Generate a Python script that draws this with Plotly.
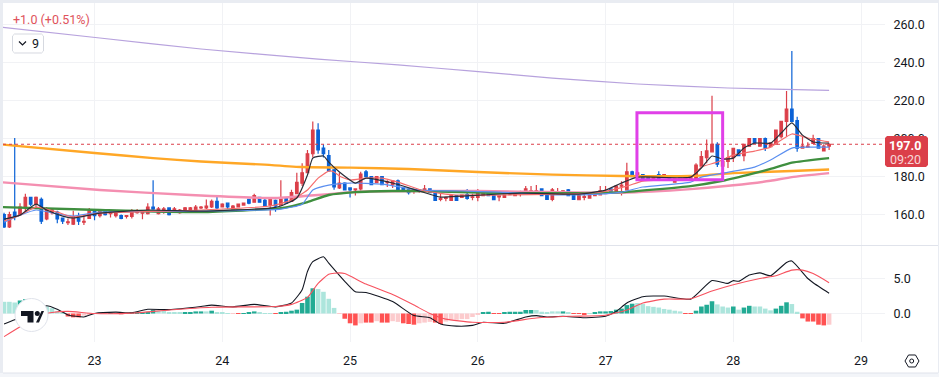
import pandas as pd
import plotly.graph_objects as go
from plotly.subplots import make_subplots

# ---------- data ----------
start_time = "2024-05-22 07:00"
opens = [160,153.5,161.3,160,163.5,169,165.5,168,157.7,161,
 161.3,158.2,155.8,155,158,156,158,162,159.5,162,
 160.5,159.5,159.5,159,159,161,160.7,160.5,164,160.5,
 161.5,163.5,162,161,161.5,162,162.5,163.5,163.5,164,
 167,164,166,163,164,165,168,166.5,169,167.5,
 165,167.5,165,168.7,167,171,176.5,182,192,204.5,
 195,191,183.5,174,176.5,174,173,173.5,182.5,180,
 176.8,180,176.8,175.8,177.7,174,173,172.5,172.5,172,
 173.5,171.5,168,168.5,167.5,170,169,170.5,169,169,
 170,172,170,169.3,169,170.5,170,171.7,171.5,172,
 172,173.5,170.5,168,171,171,173,170,167.8,169,
 168.7,170,170.3,171,173.5,171.5,175,173,182.5,180,
 181,180,178.3,181,179.5,180,177,179.5,178.5,178.5,
 179,185.5,190,193,197,185.5,188,190,194,191,
 196,200,196,200,195.7,197,201,209,215.5,209.5,
 195,195.5,197.5,200,193.5,196]
highs = [161,161.5,200.3,166,171,169.3,169.5,169,164,163,
 162,158.5,158,162,161,160,163.5,162.3,163,162.2,
 162,161.5,160,159.8,163,163,161.2,166,178,164,
 164,163.8,164,163,164,164,165,164.5,168,168,
 170,166,166.3,165,165.8,166.3,168.3,171,169.3,168.3,
 168.5,168,178,169,173,182,187,194,209,208,
 197,194,184,182,177,174.3,173.7,182.5,183.5,180.3,
 180.3,180.2,178,178,178.5,174.3,173.3,173.2,173.2,175.5,
 173.8,172,171,169.5,170.3,170.3,170.5,173.5,171,173.5,
 171.3,172.3,170.3,170,170.6,172,171.8,172.5,175,175,
 175.5,173.8,170.8,174,174,172.8,173.5,170.3,170.3,171,
 170.3,171.8,175,175,173.8,175.3,177.5,187.3,183,182.8,
 181.3,180.3,180.3,182.8,181.3,180.3,179.3,179.8,180.3,179.8,
 187,193.5,199.5,222.5,198,188.3,194,195,194.3,197.3,
 200.3,200.3,200.3,200.5,198,204.5,209.3,225,246,211.5,
 201,198,202,200.3,197,197.5]
lows = [153,153,157,160,161.5,164.5,164,155,157,160,
 155.5,155,154.5,154.5,154.5,154.5,157.7,157,158.5,159.5,
 158.5,158.5,157.5,158,158,160.5,157.5,160,162.5,160,
 160.5,159.5,161.5,160.5,161,161.5,162,163,163,163.5,
 163,163.7,163,162.7,163.8,164.8,165.5,166.2,166.2,164,
 159.5,161.5,164.7,165.7,166.7,170.7,175,181.7,190,192,
 190,182.5,173,173.5,172.7,169,170,172.7,179.7,175.5,
 176.5,175.5,174.5,174,172.7,172.7,170.5,171,171.5,171.7,
 171.2,167.3,167,167,167.2,167.2,168.7,167.8,167.5,167,
 169.7,169.7,167.5,167,168.7,170.2,169.7,169.5,171.2,171.7,
 171.7,169.7,167.7,167,170.7,170.7,169.7,167.7,167.5,167.5,
 168.4,169.7,170,170.7,171.7,171.2,170,172.7,179.7,179.7,
 178.7,178,178,178.2,179.2,177.7,176.7,177.7,178.2,178.2,
 178.7,185.2,187,192.7,185,183,184.5,187.6,190.7,188,
 195.7,197.3,195.7,193.5,195.4,196.7,200,201,208.7,193,
 194.7,195.2,197.2,194.7,193.2,194]
closes = [153.5,160,159.2,164,169,165.5,169,156.5,163,162.5,
 157.7,156.6,156.2,159,156.5,156.5,162,159.5,162,160,
 161.5,161,158,159.5,162,162,161,164,163,163,
 163,160,163,162.3,163.5,163.5,164,164,164.5,167,
 163.5,165.5,164,164.5,165.5,166,166,170,166.5,164.5,
 168,164.5,168.3,166,171.5,177,182,192,204.5,194,
 192,183,174.5,176.5,173,173,173.5,181.3,180,175.7,
 180,175.7,177.2,177.7,173,173,171.5,173,173,173.5,
 171.5,167.5,168.5,169,170,167.5,170.3,168.5,169.3,172.5,
 171,170,167.8,169.8,170.3,171,171.5,172,173.5,172.5,
 172.5,170,168,173,171.5,172.5,170,168,170,169.5,
 170,171.5,172.5,171.7,172,175,175.5,182.5,180,182,
 179,178.3,180,178.5,181,178,179,178,180,179.5,
 186,190.5,193.5,197,186.5,188,190,194.8,191,197,
 200,197.6,200,195,197.7,204.5,209,215.5,209,195,
 196,196,200,195,196,197]

histogram = [1.67,1.67,1.57,1.86,2.05,2.05,1.95,1.48,1.0,0.76,
 .3,.1,-.43,-.55,-.55,-.3,-.1,.05,.05,-.05,
 .05,-.05,-.08,.05,.1,.12,.1,.15,.5,.43,
 .43,.15,.15,.15,.15,.2,.3,.3,.3,.4,
 .2,.1,.05,-.03,-.05,.05,.15,.3,.15,.05,
 .05,-.05,.15,.25,.4,.55,1.5,2.4,3.6,3.5,
 3.1,2.1,.8,-.05,-.75,-1.4,-1.7,-1.4,-1.3,-1.3,
 -1.1,-1.3,-1.3,-1.1,-1.2,-1.4,-1.5,-1.6,-1.4,-1.3,
 -1.2,-1.3,-1.5,-1.15,-.9,-.9,-.8,-.8,-.5,-.1,
 .1,.25,-.05,-.05,.15,.25,.25,.25,.5,.5,
 .5,.25,.2,.3,.3,.3,.1,-.05,-.05,-.1,
 .05,.2,.3,.3,.35,.55,.7,1.2,1.4,1.5,
 1.35,1.05,.95,.85,.65,.55,.4,.3,-.05,-.05,
 .4,1,1.25,1.75,1.3,1,.85,1,.55,.85,
 1.1,1,1,.7,.45,.7,1.1,1.6,1.35,.25,
 -.7,-1.15,-1.15,-1.6,-1.7,-1.6]
histogram_shade = ("LLLDDLLLLL" "LLDDDLLDLL" "DLLDDDDDDL" "LLLLDDDDLD" "LLLLDDDDLL"
                   "LDDDDDDDDL" "LLLLDDDLDD" "LDDLLDDDLL" "LDDLLLLLLL" "DDDDDDDDDD"
                   "LLLLLDLDDD" "LDDDDDDDDL" "LLLLLLLLDD" "DDDDLLLDLD" "DLLLLDDDLL"
                   "DDDDDL")

ma_black_at = [0,3,6,8,11,13,18,27,37,50,52,55,57,58,60,61,63,66,68,73,78,82,86,97,108,113,116,119,129,131,133,135,137,139,141,144,146,148,150,152,155]
ma_black = [157.6,159.7,165.5,162.4,159.2,158.2,160.8,162.4,161.8,163.4,164.5,168.7,180.8,189.7,190.8,187.6,182.4,176.6,179.2,176.6,172.4,169.2,169.7,171.3,170.8,172.9,176.6,179.7,179.7,184.5,190.8,189.2,189.7,195,197.6,197.6,202.9,208.2,201.8,198.2,197.6]
ma_red_at = [0,3,6,10,13,18,37,50,54,57,59,61,62,63,65,68,71,74,79,85,93,105,112,117,120,129,131,134,137,141,144,146,148,151,155]
ma_red = [156.6,159.7,163.9,161.3,158.7,160.8,162.4,164.5,167.6,172.9,179.2,182.9,182.4,180.3,178.2,179.2,179.2,177.1,172.4,170.3,170.3,170.8,171.8,175,177.6,179.7,185,187.6,191.3,193.4,195.5,199.2,202.4,200.3,198.2]
ma_blue_at = [0,3,6,10,13,18,37,52,56,58,61,65,71,78,86,93,105,112,116,120,129,131,135,141,144,148,151,155]
ma_blue = [156,159.7,162.4,160.3,159.2,161.3,161.8,162.9,165.5,172.9,175.5,176.6,176,172.9,172.4,171.8,170.3,170.8,171.8,174.5,177.1,179.7,181.8,185,188.7,195,195.5,195.5]
ma_green_at = [-1,18,37,52,57,61,66,73,78,93,108,116,129,135,141,144,148,155]
ma_green = [164,162.4,161.3,163.4,166.6,170.3,171.8,172.4,172.4,171.3,171.3,171.8,175,177.8,181.8,184,187.3,189.7]
ma_orange_at = [-1,17,28,37,48,56,65,76,89,103,116,129,137,148,155]
ma_orange = [197,192.4,189.7,187.9,186.4,185,184.7,184,182.4,181,180.3,180.3,181.8,182.9,183.7]
ma_pink_at = [-1,18,35,51,59,63,67,89,116,129,137,144,148,155]
ma_pink = [177.1,172.9,170.3,168.7,170.3,171.3,172.1,172.4,171.5,173.4,175.4,177.8,179.7,181.8]
ma_purple_at = [-1,18,37,59,74,88,103,119,136,155]
ma_purple = [258.7,252.9,247.1,241.8,238.7,235.5,231.8,228.7,226.6,225.3]

macd_at = [0,2,8,10,12,15,17,21,24,27,31,37,39,43,47,51,54,56,57,58,60,61,64,66,68,73,77,80,82,85,88,90,94,98,100,102,105,109,113,115,117,120,124,129,133,136,137,138,140,142,144,147,148,151,152,155]
macd = [-1.5,-.9,1.1,.6,-.2,-.5,0,.2,.1,.6,.55,1,1.2,.95,1.3,.95,1.5,3.4,6,7.4,8.1,7.2,4.6,3.1,3,1.7,-.3,-.6,-1.5,-1.8,-1.7,-1.25,-1.4,-.5,-.3,-.5,-.4,-.6,-.4,.3,1.5,2.4,2.5,2.05,4.7,4.3,4.7,4.6,5.5,5.8,5.4,7.3,7.5,5,4.4,2.9]
signal_at = [0,3,6,9,12,17,24,31,39,51,54,57,59,61,63,64,68,73,77,80,83,88,94,100,106,113,117,120,124,129,133,137,142,145,148,150,152,155]
signal = [-3.3,-1.9,-.4,.15,.3,0,.05,.5,.9,1,1.3,2.3,4.3,5.6,5.8,5.7,4.2,2.7,1.2,0,-.8,-1.25,-1.25,-.65,-.4,-.25,.5,1.5,2.05,2.1,3.2,4.1,5,5.4,6.2,6.2,5.7,4.4]

price_ticks = [160, 180, 200, 220, 240, 260]
macd_ticks = [0, 5]
price_range = [144.0, 271.3]
macd_range = [-4.07, 9.64]
last_price = 197.0
box_hours = [118.9, 135.0]
box_prices = [178.3, 213.6]

# ---------- styles ----------
W, H = 939, 377
RED, BLUE = "#db3f49", "#0b62d6"
GRID = "#f1f2f5"
INK = "#131722"
SHADES = {("D", True): "#22ab94", ("L", True): "#ace5dc",
          ("D", False): "#ff5252", ("L", False): "#fccbcd"}

t0 = pd.Timestamp(start_time)
def at(h):
    return t0 + pd.Timedelta(hours=h)
def many(hs):
    return [at(h) for h in hs]
times = many(range(len(closes)))

def px(x):
    return x / W
def py(y):
    return 1 - y / H

fig = make_subplots(rows=2, cols=1, shared_xaxes=True)

def line(hs, vals, color, width, row):
    fig.add_trace(go.Scatter(x=many(hs), y=vals, mode="lines",
                             line=dict(color=color, width=width, shape="spline", smoothing=0.5),
                             hoverinfo="skip", showlegend=False), row=row, col=1)

line(ma_purple_at, ma_purple, "rgba(179,157,219,0.95)", 1.2, 1)
line(ma_orange_at, ma_orange, "#ffa726", 2.4, 1)
line(ma_pink_at, ma_pink, "#f48fb1", 2.4, 1)
line(ma_green_at, ma_green, "#3f8f3f", 2.4, 1)
fig.add_trace(go.Candlestick(x=times, open=opens, high=highs, low=lows, close=closes,
                             increasing=dict(line=dict(color=RED, width=1.2), fillcolor=RED),
                             decreasing=dict(line=dict(color=BLUE, width=1.2), fillcolor=BLUE),
                             whiskerwidth=0, showlegend=False), row=1, col=1)
line(ma_blue_at, ma_blue, "#5b8ff0", 1.2, 1)
line(ma_red_at, ma_red, "#f56c6c", 1.2, 1)
line(ma_black_at, ma_black, "#2a2e39", 1.2, 1)

bar_colors = [SHADES[(s, v >= 0)] for s, v in zip(histogram_shade, histogram)]
fig.add_trace(go.Bar(x=times, y=histogram, marker=dict(color=bar_colors, line=dict(width=0)),
                     width=0.86 * 3600000, showlegend=False), row=2, col=1)
line(macd_at, macd, "#131722", 1.1, 2)
line(signal_at, signal, "#f7525f", 1.1, 2)

x_range = [at(-0.2), at(165.5)]
axis_font = dict(family="Roboto, sans-serif", size=12.5, color=INK)
common_x = dict(range=x_range, domain=[px(3), px(885)], showgrid=True, gridcolor=GRID, gridwidth=1,
                dtick=86400000, tick0="2024-05-22 00:00", zeroline=False, showline=False,
                rangeslider=dict(visible=False))
fig.update_layout(
    width=W, height=H, margin=dict(l=0, r=0, t=0, b=0),
    paper_bgcolor="#e9ecf2", plot_bgcolor="white", showlegend=False, barmode="overlay",
    boxgap=0.32, hovermode=False, font=axis_font,
    xaxis={**common_x, "showticklabels": False, "ticks": ""},
    xaxis2={**common_x, "tickformat": "%-d", "ticks": "outside", "ticklen": 7, "tickcolor": "white",
            "tickfont": dict(family="Roboto, sans-serif", size=12.5, color=INK)},
    yaxis=dict(domain=[py(245), py(3)], range=price_range, side="right", tickvals=price_ticks,
               tickformat=".1f", showgrid=True, gridcolor=GRID, zeroline=False, showline=False,
               ticks="outside", ticklen=5, tickcolor="white"),
    yaxis2=dict(domain=[py(342), py(246)], range=macd_range, side="right", tickvals=macd_ticks,
                tickformat=".1f", showgrid=True, gridcolor=GRID, zeroline=False, showline=False,
                ticks="outside", ticklen=5, tickcolor="white"),
)

def chrome(kind="rect", x0=0, x1=0, y0=0, y1=0, path=None, fill=None, color=None, width=0, layer="above"):
    d = dict(type="path" if path else kind, xref="paper", yref="paper", layer=layer,
             fillcolor=fill or "rgba(0,0,0,0)",
             line=dict(color=color or "rgba(0,0,0,0)", width=width))
    if path:
        d["path"] = path
    else:
        d.update(x0=px(x0), x1=px(x1), y0=py(y0), y1=py(y1))
    fig.add_shape(**d)

def poly(points, close=True):
    s = "M " + " L ".join(f"{px(a):.5f},{py(b):.5f}" for a, b in points)
    return s + (" Z" if close else "")

def rounded(x0, y0, x1, y1, c=2):
    return poly([(x0 + c, y0), (x1 - c, y0), (x1, y0 + c), (x1, y1 - c),
                 (x1 - c, y1), (x0 + c, y1), (x0, y1 - c), (x0, y0 + c)])

# white card behind axes and panes
chrome(x0=3, x1=938, y0=3, y1=373, fill="white", layer="below")
chrome(x0=0, x1=939, y0=373, y1=377, fill="#f3f5f9", layer="below")
chrome(kind="line", x0=3, x1=938, y0=245.5, y1=245.5, color="#e0e3eb", width=1)
chrome(kind="line", x0=3, x1=938, y0=373, y1=373, color="#e0e3eb", width=1)

# last price dotted line
fig.add_shape(type="line", xref="x", yref="y", x0=at(-0.2), x1=at(165.5), y0=last_price, y1=last_price,
              line=dict(color=RED, width=1, dash="dot"))
# highlight box
fig.add_shape(type="rect", xref="x", yref="y", x0=at(box_hours[0]), x1=at(box_hours[1]),
              y0=box_prices[0], y1=box_prices[1], line=dict(color="#e040e8", width=3),
              fillcolor="rgba(0,0,0,0)")

# price tag
chrome(path=rounded(885, 136, 928, 167), fill=RED)
fig.add_annotation(xref="paper", yref="paper", x=px(923), y=py(145), text="<b>197.0</b>", showarrow=False,
                   xanchor="right", yanchor="middle",
                   font=dict(family="Roboto, sans-serif", size=12.5, color="white"))
fig.add_annotation(xref="paper", yref="paper", x=px(923), y=py(159), text="09:20", showarrow=False,
                   xanchor="right", yanchor="middle",
                   font=dict(family="Roboto, sans-serif", size=12.5, color="rgba(255,255,255,0.8)"))

# header text and legend toggle
fig.add_annotation(xref="paper", yref="paper", x=px(11), y=py(19), text="+1.0 (+0.51%)", showarrow=False,
                   xanchor="left", yanchor="middle",
                   font=dict(family="Roboto, sans-serif", size=12.5, color="#e0525b"))
chrome(path=rounded(12.5, 34, 43.5, 53), fill="white", color="#d6d9e0", width=1)
chrome(path=poly([(19, 41.5), (22.5, 45), (26, 41.5)], close=False), color=INK, width=1.2)
fig.add_annotation(xref="paper", yref="paper", x=px(30), y=py(43.5), text="9", showarrow=False,
                   xanchor="left", yanchor="middle",
                   font=dict(family="Roboto, sans-serif", size=12.5, color=INK))

# TradingView badge
chrome(kind="circle", x0=15, x1=48, y0=298.5, y1=331.5, fill="white", color="#e0e3eb", width=1)
chrome(path=poly([(21, 311), (33.5, 311), (33.5, 322.5), (27.5, 322.5), (27.5, 316), (21, 316)]), fill=INK)
chrome(kind="circle", x0=34.8, x1=39.8, y0=311, y1=316, fill=INK)
chrome(path=poly([(36, 322.5), (41.5, 311), (44, 311), (39, 322.5)]), fill=INK)

# settings icon
chrome(path=poly([(905, 361), (908.5, 355), (915.5, 355), (919, 361), (915.5, 367), (908.5, 367)]),
       color=INK, width=1)
chrome(kind="circle", x0=909.7, x1=913.7, y0=359, y1=363, color=INK, width=1)

fig.write_html("out.html", config={"displayModeBar": False},
               post_script="document.body.style.margin='0';document.documentElement.style.overflow='hidden';")
